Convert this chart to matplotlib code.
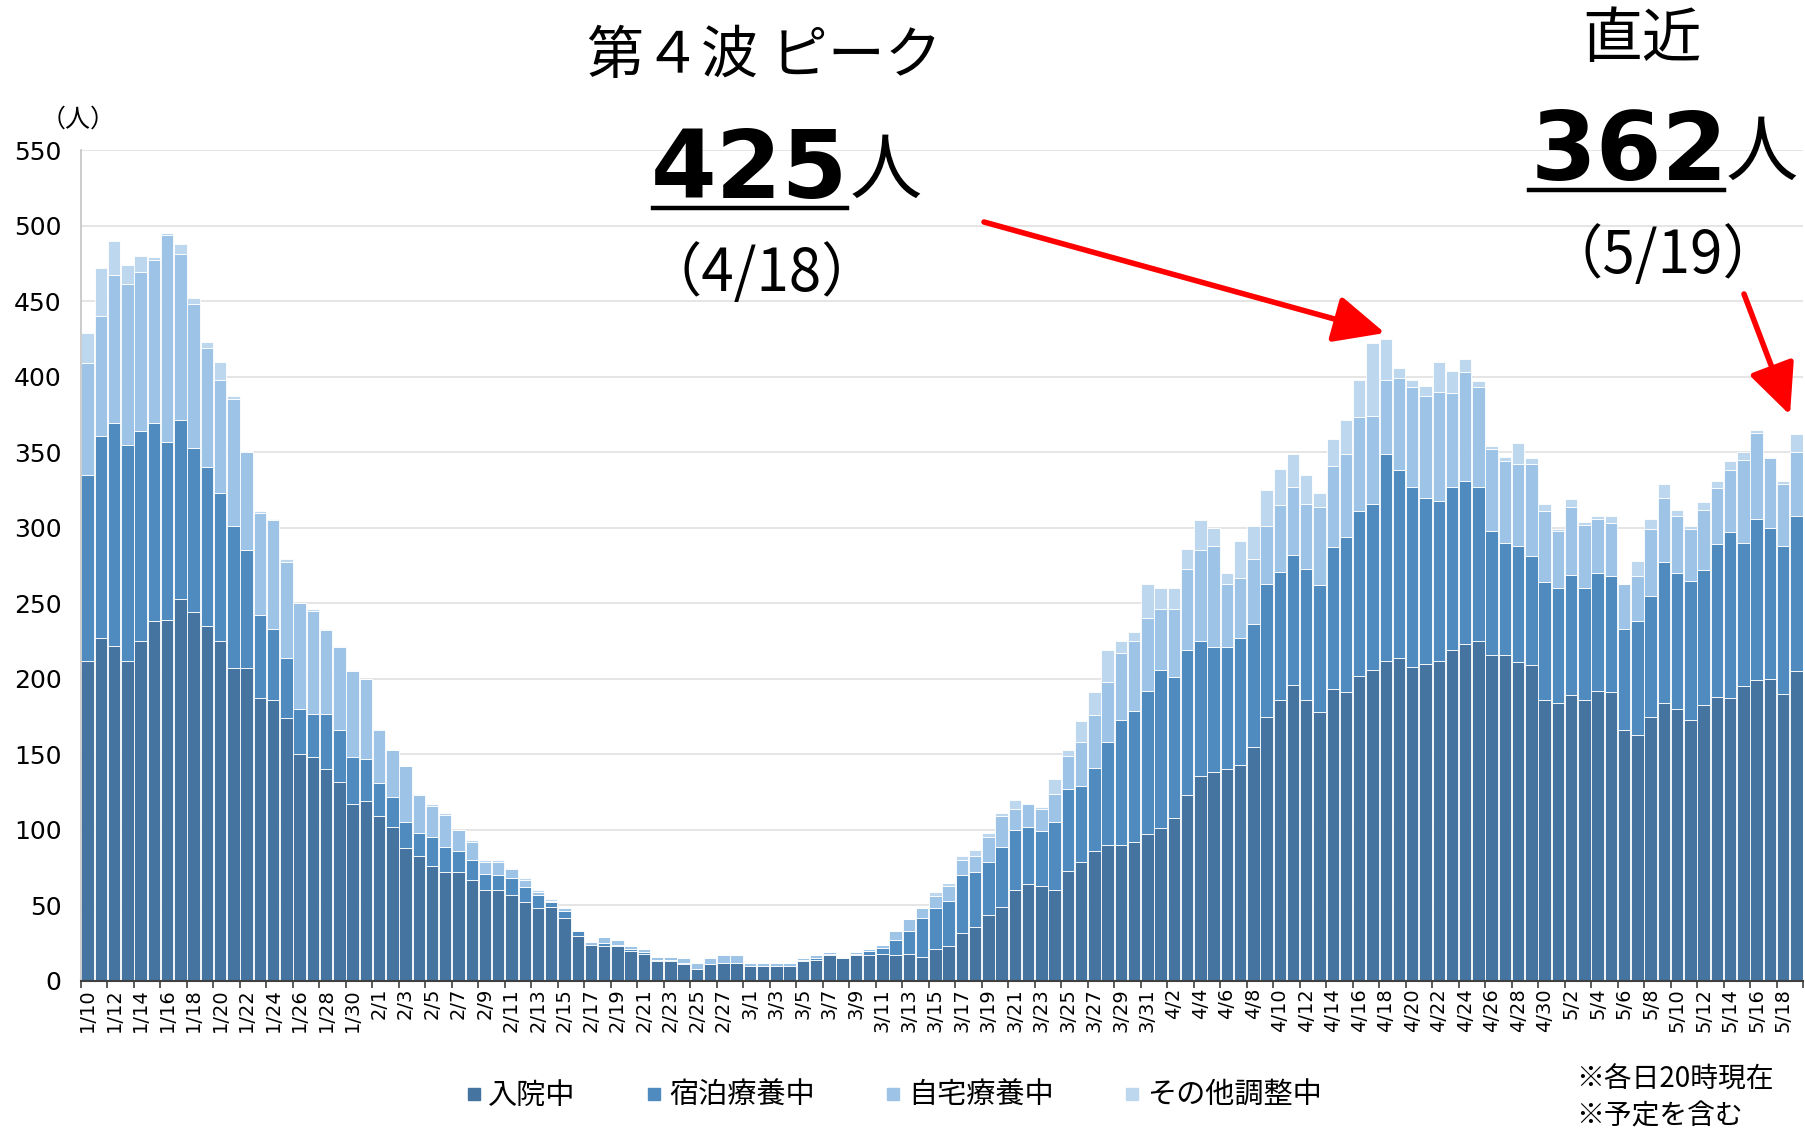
import numpy as np
import pandas as pd
import matplotlib
matplotlib.use('Agg')
import matplotlib.pyplot as plt
from matplotlib.lines import Line2D

plt.rcParams['font.family'] = ['Noto Sans CJK JP', 'DejaVu Sans']

# daily categories 1/10 .. 5/19
dates = pd.date_range('2021-01-10', '2021-05-19')
day_labels = [f'{d.month}/{d.day}' for d in dates]

series_names = ['入院中', '宿泊療養中', '自宅療養中', 'その他調整中']

hospital = [212, 227, 222, 212, 225, 238, 239, 253, 244, 235,
            225, 207, 207, 187, 186, 174, 150, 148, 140, 132,
            117, 119, 109, 102, 88, 83, 76, 72, 72, 67,
            60, 60, 57, 52, 48, 49, 42, 30, 24, 23,
            23, 20, 18, 13, 13, 11, 8, 11, 12, 12,
            10, 10, 10, 10, 13, 14, 17, 15, 17, 17,
            18, 17, 18, 16, 21, 23, 32, 36, 44, 49,
            60, 64, 63, 60, 73, 79, 86, 90, 90, 92,
            97, 101, 108, 123, 136, 138, 140, 143, 155, 175,
            186, 196, 186, 178, 193, 191, 202, 206, 212, 214,
            208, 210, 212, 219, 223, 225, 216, 216, 211, 209,
            186, 184, 189, 186, 192, 191, 166, 163, 175, 184,
            180, 173, 183, 188, 187, 195, 199, 200, 190, 205]

hotel = [123, 134, 147, 143, 139, 131, 118, 118, 109, 105,
         98, 94, 78, 55, 47, 40, 30, 29, 37, 34,
         31, 28, 22, 20, 17, 15, 19, 17, 14, 13,
         11, 10, 11, 10, 9, 3, 4, 3, 0, 2,
         1, 1, 1, 1, 1, 1, 0, 0, 0, 0,
         0, 0, 0, 0, 1, 1, 1, 0, 1, 3,
         4, 10, 15, 26, 27, 30, 38, 36, 35, 40,
         40, 38, 36, 45, 54, 50, 55, 68, 83, 87,
         95, 105, 93, 96, 89, 83, 81, 84, 81, 88,
         85, 86, 87, 84, 94, 103, 109, 110, 137, 124,
         119, 110, 106, 108, 108, 102, 82, 74, 77, 72,
         78, 76, 80, 74, 78, 77, 67, 75, 80, 93,
         90, 92, 89, 101, 110, 95, 107, 100, 98, 103]

home = [74, 79, 98, 106, 105, 108, 137, 110, 95, 79,
        75, 84, 65, 68, 72, 63, 70, 68, 55, 55,
        57, 53, 35, 31, 37, 25, 21, 21, 14, 12,
        8, 9, 6, 5, 2, 1, 2, 1, 2, 4,
        3, 2, 2, 2, 2, 3, 4, 4, 5, 5,
        2, 2, 2, 2, 1, 2, 1, 1, 1, 1,
        2, 6, 8, 6, 8, 10, 10, 11, 16, 20,
        14, 15, 15, 19, 22, 29, 35, 40, 44, 46,
        48, 40, 45, 54, 60, 67, 42, 40, 43, 38,
        44, 45, 43, 52, 54, 55, 62, 58, 49, 61,
        66, 67, 72, 62, 72, 66, 54, 54, 54, 61,
        47, 38, 45, 42, 36, 35, 30, 30, 44, 43,
        38, 34, 40, 37, 41, 55, 57, 46, 41, 42]

other = [20, 32, 23, 13, 11, 2, 1, 7, 4, 4,
         12, 2, 1, 1, 1, 2, 0, 1, 1, 1,
         1, 0, 1, 0, 0, 1, 1, 1, 0, 1,
         1, 1, 1, 1, 1, 1, 0, 0, 0, 0,
         0, 0, 0, 0, 0, 0, 0, 0, 0, 0,
         0, 0, 0, 0, 0, 0, 0, 0, 0, 0,
         0, 0, 0, 0, 3, 2, 3, 4, 3, 2,
         6, 1, 1, 10, 4, 14, 15, 21, 8, 6,
         23, 14, 14, 13, 20, 12, 7, 24, 22, 24,
         24, 22, 19, 9, 18, 22, 25, 48, 27, 7,
         5, 7, 20, 15, 9, 4, 2, 3, 14, 4,
         5, 1, 5, 2, 2, 5, 0, 10, 7, 9,
         4, 2, 5, 5, 6, 5, 2, 1, 2, 12]

colors = ['#44749F', '#4F8BBF', '#9DC3E6', '#BDD7EE']

W, H = 1806, 1131
fig = plt.figure(figsize=(W / 100, H / 100), dpi=100)

def fx(px):
    return px / W

def fy(py):
    return 1 - py / H

ax = fig.add_axes([fx(81), fy(981), (1803 - 81) / W, (981 - 150) / H])

x = np.arange(len(day_labels))
bottom = np.zeros(len(x))
for vals, c, name in zip([hospital, hotel, home, other], colors, series_names):
    ax.bar(x, vals, bottom=bottom, width=0.94, color=c, edgecolor='white',
           linewidth=0.6, label=name, zorder=2)
    bottom += np.array(vals)

ax.set_xlim(-0.5, len(x) - 0.5)
ax.set_ylim(0, 550)
ax.set_yticks(np.arange(0, 551, 50))
ax.yaxis.grid(True, color='#e3e3e3', linewidth=1.3, zorder=0)
ax.set_axisbelow(True)
for s in ['top', 'right']:
    ax.spines[s].set_visible(False)
ax.spines['left'].set_color('#c8c8c8')
ax.spines['left'].set_linewidth(1.3)
ax.spines['bottom'].set_color('#404040')
ax.spines['bottom'].set_linewidth(1.5)

ax.tick_params(axis='y', length=0, pad=14)
for lab in ax.get_yticklabels():
    lab.set_fontsize(18)
    lab.set_family('DejaVu Sans')

ax.set_xticks(x[::2])
ax.set_xticklabels(day_labels[::2], rotation=90, fontsize=14, family='DejaVu Sans')
ax.set_xticks(np.arange(-0.5, len(x), 2), minor=True)
ax.tick_params(axis='x', which='major', length=0, pad=5)
ax.tick_params(axis='x', which='minor', length=5, width=1.2, color='#404040')

# unit label
fig.text(fx(78), fy(120), '（人）', fontsize=18, ha='center', va='center')

# peak annotation
fig.text(fx(764), fy(57), '第４波 ピーク', fontsize=41, ha='center', va='center')
fig.text(fx(651), fy(198), '425', fontsize=68, fontweight='bold',
         family='DejaVu Sans', ha='left', va='baseline')
fig.add_artist(Line2D([fx(653), fx(847)], [fy(208), fy(208)], color='black', lw=3.2))
fig.text(fx(850), fy(193), '人', fontsize=52, ha='left', va='baseline')
fig.text(fx(762), fy(275), '（4/18）', fontsize=42, ha='center', va='center')

# latest annotation
fig.text(fx(1642), fy(40), '直近', fontsize=43, ha='center', va='center')
fig.text(fx(1531), fy(180), '362', fontsize=68, fontweight='bold',
         family='DejaVu Sans', ha='left', va='baseline')
fig.add_artist(Line2D([fx(1529), fx(1724)], [fy(190), fy(190)], color='black', lw=3.2))
fig.text(fx(1726), fy(175), '人', fontsize=52, ha='left', va='baseline')
fig.text(fx(1663), fy(257), '（5/19）', fontsize=42, ha='center', va='center')

# red arrows
arrow_kw = dict(arrowstyle='-|>,head_length=1.3,head_width=0.6', color='#ff0000',
                lw=4, mutation_scale=24, shrinkA=0, shrinkB=0)
ax.annotate('', xy=(1385, H - 333), xytext=(984, H - 222),
            xycoords='figure pixels', textcoords='figure pixels', arrowprops=arrow_kw)
ax.annotate('', xy=(1790, H - 415), xytext=(1744, H - 294),
            xycoords='figure pixels', textcoords='figure pixels', arrowprops=arrow_kw)

# legend
handles = [Line2D([], [], marker='s', ls='', color=c, markersize=8) for c in colors]
fig.legend(handles, series_names, loc='center', bbox_to_anchor=(fx(894), fy(1096)),
           ncol=4, frameon=False, fontsize=21, handlelength=0.5,
           handletextpad=0.25, columnspacing=2.45)

fig.text(fx(1576), fy(1080), '※各日20時現在', fontsize=20, ha='left', va='center')
fig.text(fx(1576), fy(1116), '※予定を含む', fontsize=20, ha='left', va='center')

fig.savefig('out.png', dpi=100)
